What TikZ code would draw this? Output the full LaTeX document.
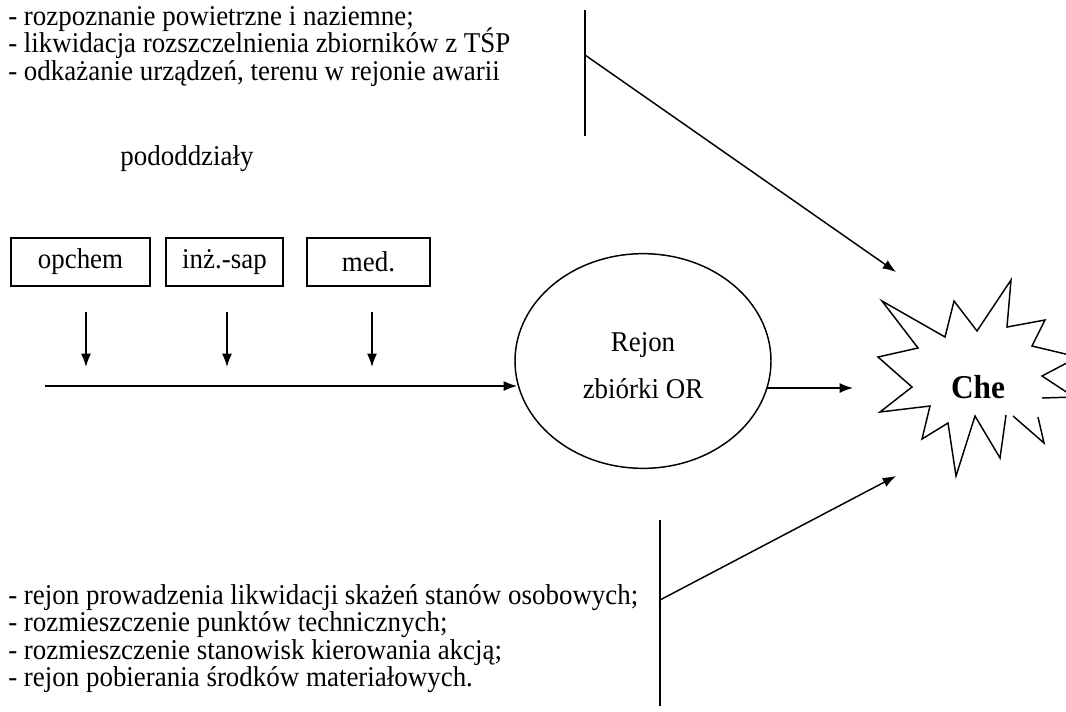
\documentclass[tikz,border=0pt]{standalone}
\usepackage{fontspec}
\setmainfont{Liberation Serif}[FakeStretch=0.94]
\usetikzlibrary{arrows.meta,shapes.geometric}
\begin{document}
\begin{tikzpicture}[x=0.75pt,y=-0.75pt,
  txt/.style={anchor=base west,inner sep=0pt,font=\fontsize{21.5}{20}\selectfont},
  ctxt/.style={anchor=base,inner sep=0pt,font=\fontsize{21.5}{20}\selectfont},
  unit/.style={draw,line width=0.8pt,inner sep=0pt,minimum height=36pt,font=\fontsize{21.5}{20}\selectfont},
  conn/.style={line width=1.1pt,-{Latex[length=10pt,width=7.5pt]}},
  bar/.style={line width=1.1pt},
  starline/.style={line width=1.1pt,line join=miter}]
\useasboundingbox (0,0) rectangle (1066,711);

% top text block
\node[txt] (t1) at (8,25) {- rozpoznanie powietrzne i naziemne;};
\node[txt] (t2) at (8,52.5) {- likwidacja rozszczelnienia zbiorników z TŚP};
\node[txt] (t3) at (8,80) {- odkażanie urządzeń, terenu w rejonie awarii};

% top bar and arrow
\coordinate (tbtop) at (585,10);
\coordinate (tbbot) at (585,136);
\coordinate (tbmid) at (585,55);
\coordinate (tend) at (896,272);
\draw[bar] (tbtop) -- (tbbot);
\draw[conn] (tbmid) -- (tend);

% label
\node[ctxt] (pod) at (187,165) {pododdziały};

% unit boxes
\node[unit,minimum width=104.25pt] (b1) at (80.5,262) {opchem};
\node[unit,minimum width=87.75pt] (b2) at (224.5,262) {inż.-sap};
\node[unit,minimum width=92.25pt] (b3) at (368.5,262) {med.};

% small arrows
\coordinate (a1s) at (86,312); \coordinate (a1e) at (86,367);
\coordinate (a2s) at (227,312); \coordinate (a2e) at (227,367);
\coordinate (a3s) at (372,312); \coordinate (a3e) at (372,367);
\draw[conn] (a1s) -- (a1e);
\draw[conn] (a2s) -- (a2e);
\draw[conn] (a3s) -- (a3e);

% ellipse
\node[ellipse,draw,line width=1.1pt,minimum width=192pt,minimum height=161pt,inner sep=0pt] (ell) at (643,361) {};
\node[ctxt] (rej1) at (643,351) {Rejon};
\node[ctxt] (rej2) at (643,398) {zbiórki OR};

% long arrow into ellipse
\coordinate (lstart) at (45,386);
\coordinate (lend) at (517,386);
\draw[conn] (lstart) -- (lend);

% arrow from ellipse to star
\coordinate (rstart) at (767,388);
\coordinate (rend) at (853,388);
\draw[conn] (rstart) -- (rend);

% star
\draw[starline] (1006,415) -- (1000,458) -- (975,416) -- (956,476) -- (948,423)
  -- (922,439) -- (930,406) -- (880,412) -- (912,387) -- (878,357) -- (918,348)
  -- (882,301) -- (945,337) -- (954,301) -- (977,331) -- (1011,280) -- (1007,327)
  -- (1045,320) -- (1032,346) -- (1078,357) -- (1042,376) -- (1074,397) -- (1042,398);
\draw[starline] (1013,416) -- (1044,443) -- (1038,417);
\node[anchor=base,inner sep=0pt,font=\fontsize{25}{25}\selectfont\bfseries] (che) at (978,398) {Che};

% bottom text block
\node[txt] (u1) at (8,604) {- rejon prowadzenia likwidacji skażeń stanów osobowych;};
\node[txt] (u2) at (8,631.5) {- rozmieszczenie punktów technicznych;};
\node[txt] (u3) at (8,659) {- rozmieszczenie stanowisk kierowania akcją;};
\node[txt] (u4) at (8,686.5) {- rejon pobierania środków materiałowych.};

% bottom bar and arrow
\coordinate (bbtop) at (660,520);
\coordinate (bbbot) at (660,706);
\coordinate (bbmid) at (660,600);
\coordinate (bend) at (896,476);
\draw[bar] (bbtop) -- (bbbot);
\draw[conn] (bbmid) -- (bend);
\end{tikzpicture}
\end{document}
